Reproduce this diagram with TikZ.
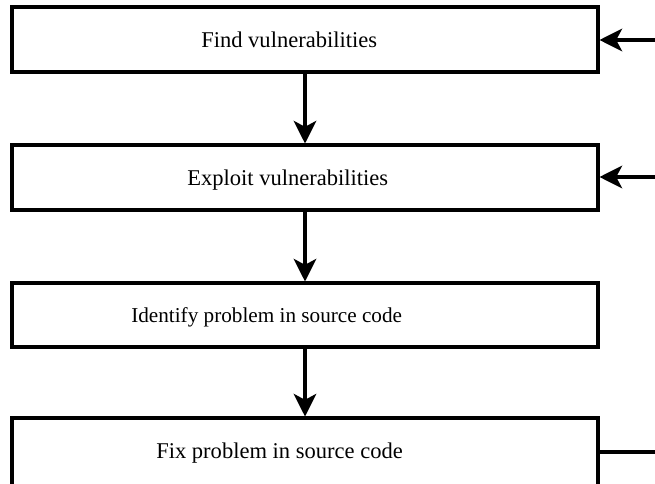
\documentclass[tikz,border=0pt]{standalone}
\usepackage{fontspec}
\setmainfont{Liberation Serif}
\usetikzlibrary{arrows.meta}
\begin{document}
\begin{tikzpicture}[x=0.75pt,y=-0.75pt,
  stepbox/.style={draw=black,line width=3pt,fill=white},
  lbl/.style={anchor=base west,inner sep=0pt,font=\fontsize{16.9pt}{19pt}\selectfont},
  lblsmall/.style={lbl,font=\fontsize{15.9pt}{18pt}\selectfont},
  conn/.style={line width=2.4pt,-{Stealth[length=17pt,width=17pt,inset=4.5pt]}},
  plain/.style={line width=2.4pt}]
\useasboundingbox (0,0) rectangle (655,484);
\begin{scope}
\clip (0,0) rectangle (655,484);
\draw[stepbox] (12,7) rectangle (598,72);
\draw[stepbox] (12,145) rectangle (598,210);
\draw[stepbox] (12,283) rectangle (598,347);
\draw[stepbox] (12,418) rectangle (598,490);
\end{scope}
\coordinate (b1s) at (305,73.5);
\coordinate (b2n) at (305,143.5);
\coordinate (b2s) at (305,211.5);
\coordinate (b3n) at (305,281.5);
\coordinate (b3s) at (305,348.5);
\coordinate (b4n) at (305,416.5);
\coordinate (b1e) at (599.5,40);
\coordinate (b2e) at (599.5,177);
\coordinate (b4e) at (599.5,452);
\coordinate (r1) at (656,40);
\coordinate (r2) at (656,177);
\coordinate (r4) at (656,452);
\node[lbl] (t1) at (201,48) {Find vulnerabilities};
\node[lbl] (t2) at (187,186) {Exploit vulnerabilities};
\node[lblsmall] (t3) at (131,322) {Identify problem in source code};
\node[lbl] (t4) at (156,458) {Fix problem in source code};
\draw[conn] (b1s) -- (b2n);
\draw[conn] (b2s) -- (b3n);
\draw[conn] (b3s) -- (b4n);
\draw[conn] (r1) -- (b1e);
\draw[conn] (r2) -- (b2e);
\draw[plain] (b4e) -- (r4);
\end{tikzpicture}
\end{document}
